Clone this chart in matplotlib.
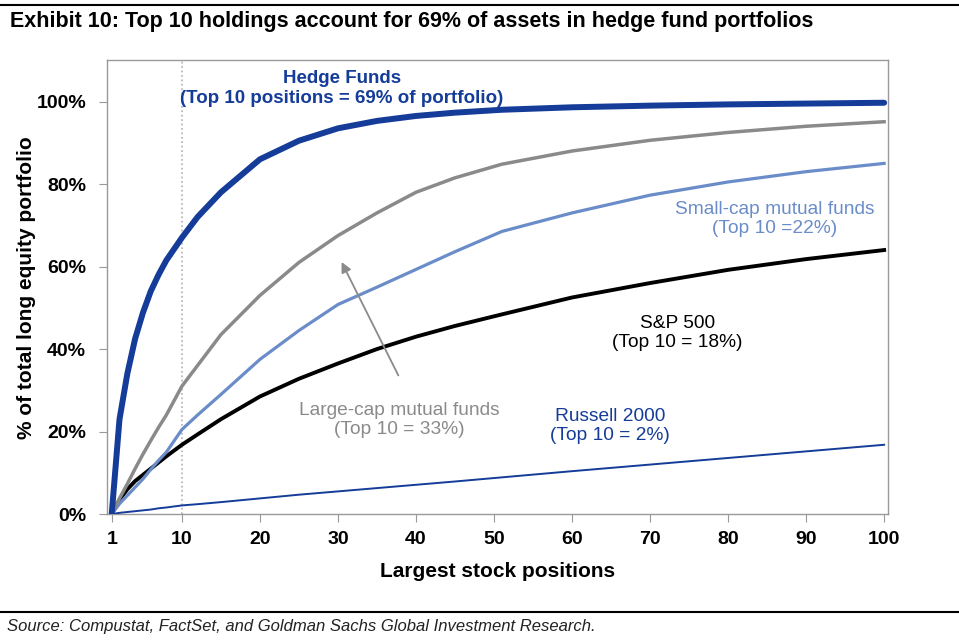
import matplotlib
matplotlib.use('Agg')
import matplotlib.pyplot as plt
from matplotlib.ticker import FuncFormatter

positions = [1, 2, 3, 4, 5, 6, 7, 8, 10, 12, 15, 20, 25, 30, 35, 40, 45, 51,
             60, 70, 80, 90, 100]

# cumulative share of long equity portfolio (%)
hedge_funds = [0, 23, 34, 42.5, 48.8, 54, 58, 61.5, 67, 72, 78, 86, 90.5, 93.5, 95.3, 96.5,
               97.3, 98, 98.6, 99, 99.3, 99.5, 99.7]
large_cap = [0, 3.8, 7.3, 11, 14.5, 17.8, 21, 24, 31, 36, 43.5, 53, 61, 67.5, 73, 78,
             81.5, 84.8, 88, 90.6, 92.5, 94, 95.1]
small_cap = [0, 2.5, 4.5, 6.5, 8.5, 10.8, 13, 15, 20.5, 24, 29, 37.5, 44.5, 50.8, 55,
             59.3, 63.6, 68.5, 73, 77.3, 80.5, 83, 85]
sp500 = [0, 3.5, 6, 8, 9.5, 11, 12.5, 14, 16.8, 19.3, 23, 28.5, 32.8, 36.5, 40, 43,
         45.6, 48.4, 52.5, 56, 59.2, 61.8, 64]
russell = [0, 0.3, 0.5, 0.7, 0.9, 1.1, 1.4, 1.6, 2.1, 2.4, 2.9, 3.8, 4.7, 5.5, 6.3, 7.1,
           7.9, 8.9, 10.4, 12, 13.6, 15.2, 16.8]

xtick_vals = [1, 10, 20, 30, 40, 50, 60, 70, 80, 90, 100]
ytick_vals = [0, 20, 40, 60, 80, 100]

NAVY = '#143c98'
GRAY = '#8a8a8a'
LIGHT = '#6a8cc8'

plt.rcParams['font.family'] = ['Liberation Sans', 'DejaVu Sans']

fig = plt.figure(figsize=(9.59, 6.41), dpi=100)
ax = fig.add_axes([0.1116, 0.198, 0.8144, 0.708])

# dotted marker at the top-10 position
ax.axvline(10, color='#b0b0b0', linestyle=':', linewidth=1.2, zorder=1)

ax.plot(positions, russell, color=NAVY, linewidth=1.4, zorder=3)
ax.plot(positions, sp500, color='black', linewidth=2.8, zorder=3)
ax.plot(positions, small_cap, color=LIGHT, linewidth=2.3, zorder=3)
ax.plot(positions, large_cap, color=GRAY, linewidth=2.5, zorder=3)
ax.plot(positions, hedge_funds, color=NAVY, linewidth=4.3, zorder=4,
        solid_capstyle='round', solid_joinstyle='round')

ax.set_xlim(0.4, 100.5)
ax.set_ylim(0, 110)
ax.set_xticks(xtick_vals)
ax.set_yticks(ytick_vals)
ax.yaxis.set_major_formatter(FuncFormatter(lambda v, p: '%d%%' % v))

for s in ax.spines.values():
    s.set_color('#999999')
    s.set_linewidth(1.0)

ax.tick_params(axis='both', colors='#999999', labelcolor='black', length=6, width=0.8,
               labelsize=14)
ax.tick_params(axis='x', pad=6)
ax.tick_params(axis='y', pad=9)
for lab in ax.get_xticklabels() + ax.get_yticklabels():
    lab.set_fontweight('bold')

ax.set_xlabel('Largest stock positions', fontsize=15, fontweight='bold', labelpad=10)
ax.set_ylabel('% of total long equity portfolio', fontsize=15, fontweight='bold')
ax.yaxis.set_label_coords(-0.091, 0.5)

# series labels
ax.text(30.5, 103.2, 'Hedge Funds\n(Top 10 positions = 69% of portfolio)', color=NAVY,
        fontsize=13.5, fontweight='bold', ha='center', va='center', linespacing=1.2)
ax.text(86.0, 71.6, 'Small-cap mutual funds\n(Top 10 =22%)', color=LIGHT,
        fontsize=13.8, ha='center', va='center', linespacing=1.15)
ax.text(73.5, 43.9, 'S&P 500\n(Top 10 = 18%)', color='black',
        fontsize=13.8, ha='center', va='center', linespacing=1.15)
ax.text(37.9, 22.8, 'Large-cap mutual funds\n(Top 10 = 33%)', color=GRAY,
        fontsize=13.8, ha='center', va='center', linespacing=1.15)
ax.text(64.9, 21.4, 'Russell 2000\n(Top 10 = 2%)', color=NAVY,
        fontsize=13.8, ha='center', va='center', linespacing=1.15)

ax.annotate('', xy=(30.3, 61.7), xytext=(37.9, 33),
            arrowprops=dict(arrowstyle='-|>', color=GRAY, lw=1.3, mutation_scale=15))

# title, rules and source
fig.add_artist(plt.Line2D([0, 1], [1 - 5 / 641, 1 - 5 / 641], color='black', linewidth=1.5))
fig.text(10 / 959, 1 - 22 / 641,
         'Exhibit 10: Top 10 holdings account for 69% of assets in hedge fund portfolios',
         fontsize=15.5, fontweight='bold', ha='left', va='center')
fig.add_artist(plt.Line2D([0, 1], [1 - 612 / 641, 1 - 612 / 641], color='black', linewidth=1.5))
fig.text(7 / 959, 1 - 626 / 641,
         'Source: Compustat, FactSet, and Goldman Sachs Global Investment Research.',
         fontsize=12, style='italic', color='#222222', ha='left', va='center')

fig.savefig('out.png', dpi=100)
